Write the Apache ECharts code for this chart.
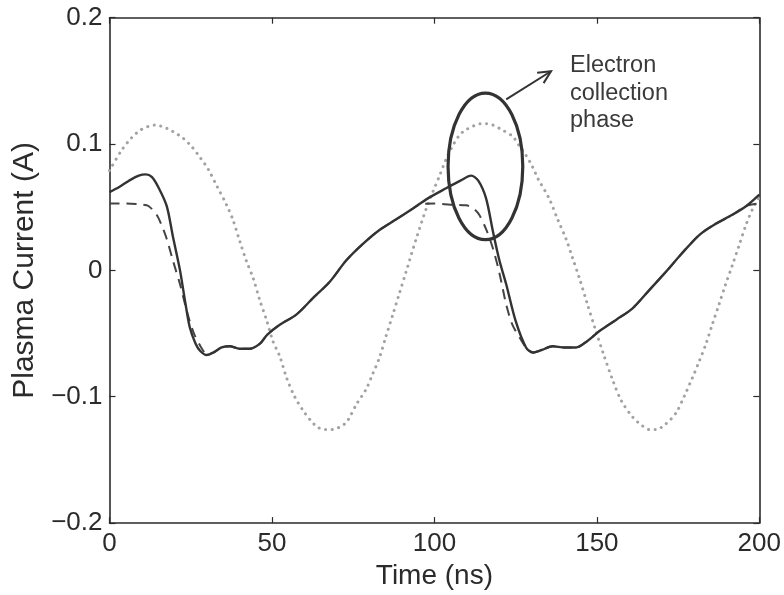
<!DOCTYPE html>
<html>
<head>
<meta charset="utf-8">
<script src="https://cdn.jsdelivr.net/npm/echarts@6/dist/echarts.min.js"></script>
<style>
  html, body { margin: 0; padding: 0; background: #fff; }
  #chart { width: 784px; height: 595px; }
</style>
</head>
<body>
<div id="chart"></div>
<script>
// Time axis (ns) and current axis (A)
var xTicks = [0, 50, 100, 150, 200];
var yTicks = [-0.2, -0.1, 0, 0.1, 0.2];

// Measured plasma current: [time ns, current A]
var measured = [
  [0, 0.062], [3, 0.066], [6, 0.071], [9, 0.075], [11.2, 0.076], [13, 0.074],
  [15, 0.066], [17.6, 0.051], [19.5, 0.027], [21.7, 0.000], [23.3, -0.025],
  [24.7, -0.045], [26.5, -0.058], [28, -0.064], [29.9, -0.067], [32, -0.065],
  [34.5, -0.061], [37, -0.060], [40, -0.062], [43.2, -0.062], [46.3, -0.058],
  [48.5, -0.051], [52.4, -0.043], [57.5, -0.035], [62.6, -0.022], [67.8, -0.009],
  [72.9, 0.008], [78, 0.021], [83.1, 0.032], [88, 0.040], [93.4, 0.049],
  [98, 0.057], [103.6, 0.065], [108, 0.071], [111.3, 0.075], [113.5, 0.071],
  [115.9, 0.057], [118, 0.031], [120, 0.008], [122.1, -0.011], [125, -0.040],
  [128.2, -0.061], [130.3, -0.065], [133, -0.063], [136.4, -0.060], [140, -0.061],
  [143.6, -0.061], [147, -0.056], [150.8, -0.048], [156, -0.039], [161, -0.030],
  [166, -0.016], [171.3, -0.001], [176, 0.013], [181.5, 0.028], [186, 0.036],
  [191.7, 0.044], [196, 0.051], [200, 0.060]
];

// Model current: [time ns, current A]
var model = [
  [0, 0.053], [5, 0.053], [10, 0.052], [12, 0.051], [14.5, 0.044], [16, 0.036],
  [17.6, 0.025], [19.5, 0.008], [21.7, -0.011], [24.1, -0.035], [26, -0.050],
  [28, -0.060], [29.9, -0.066], [32, -0.065], [34.5, -0.061], [37, -0.060],
  [40, -0.062], [43.2, -0.062], [46.3, -0.058], [48.5, -0.051], [52.4, -0.043],
  [57.5, -0.035], [62.6, -0.022], [67.8, -0.009], [72.9, 0.008], [78, 0.021],
  [83.1, 0.032], [88, 0.040], [93.4, 0.049], [95.5, 0.052], [100, 0.053],
  [105, 0.052], [109.8, 0.0515], [112, 0.049], [113.8, 0.044], [116, 0.032],
  [118, 0.0175], [120, -0.002], [122.1, -0.027], [124, -0.043], [126.2, -0.053],
  [128.2, -0.061], [130.3, -0.065], [133, -0.063], [136.4, -0.060], [140, -0.061],
  [143.6, -0.061], [147, -0.056], [150.8, -0.048], [156, -0.039], [161, -0.030],
  [166, -0.016], [171.3, -0.001], [176, 0.013], [181.5, 0.028], [186, 0.036],
  [191.7, 0.044], [196, 0.051], [200, 0.053]
];

// Applied RF signal (scaled): [time ns, value]
var drive = [
  [0, 0.079], [3.7, 0.095], [6.8, 0.105], [9.5, 0.111], [12, 0.114], [14, 0.115],
  [16, 0.114], [18, 0.112], [20.1, 0.109], [22.5, 0.105], [25.3, 0.098], [28, 0.089],
  [30.4, 0.080], [33, 0.067], [36, 0.052], [38, 0.040], [40.1, 0.023], [42.2, 0.007],
  [44.2, -0.006], [46.3, -0.024], [48.3, -0.039], [50.3, -0.056], [52.4, -0.068],
  [54.5, -0.085], [57, -0.100], [59.6, -0.111], [62, -0.119], [64, -0.124],
  [66.3, -0.126], [68.5, -0.126], [70.8, -0.124], [73, -0.120], [76, -0.106],
  [79, -0.094], [81, -0.082], [83.1, -0.069], [85, -0.053], [87.2, -0.035],
  [89, -0.020], [91.3, -0.001], [94.4, 0.025], [97.5, 0.049], [99.5, 0.062],
  [101.6, 0.075], [103.6, 0.088], [105.5, 0.098], [107.7, 0.107], [109.5, 0.111],
  [111.8, 0.114], [114, 0.116], [116, 0.116], [118, 0.115], [121, 0.111],
  [124.1, 0.106], [126, 0.099], [128.2, 0.091], [130, 0.083], [132, 0.072],
  [135.3, 0.057], [138, 0.040], [140.5, 0.025], [142.5, 0.010], [144.6, -0.006],
  [147, -0.026], [149.7, -0.048], [152, -0.066], [154.9, -0.087], [157.5, -0.103],
  [161, -0.116], [164, -0.123], [166.2, -0.126], [168.2, -0.126], [171, -0.122],
  [174.3, -0.113], [177, -0.099], [179.4, -0.085], [181.5, -0.072], [183.6, -0.058],
  [185.5, -0.043], [187.6, -0.027], [189.5, -0.012], [191.7, 0.004], [193.8, 0.020],
  [195.9, 0.036], [198, 0.049], [200, 0.058]
];

// Annotation: ellipse around the electron collection phase (data coords)
var phaseCenter = [115.7, 0.0823];
var phaseRadius = [11.5, 0.058];
var arrowFrom = [122.1, 0.1354];
var arrowTo = [135.9, 0.1576];
var noteLines = ['Electron', 'collection', 'phase'];

var FONT = '"Liberation Sans", Arial, Helvetica, sans-serif';
var INK = '#2b2b2b';

function fmtTick(v) {
  var s = (Math.round(v * 10) / 10).toString();
  return s.replace('-', '\u2212');
}

var chart = echarts.init(document.getElementById('chart'), null, { renderer: 'canvas' });

var boxAxisLine = { show: true, onZero: false, lineStyle: { color: INK, width: 1.6 } };
var boxTick = { show: true, inside: true, length: 6, lineStyle: { color: INK, width: 1.2 } };

chart.setOption({
  animation: false,
  backgroundColor: '#ffffff',
  grid: { left: 109.5, right: 24, top: 17.7, bottom: 69.3, containLabel: false },
  xAxis: [{
    type: 'value', min: xTicks[0], max: xTicks[xTicks.length - 1], interval: 50,
    position: 'bottom',
    axisLine: boxAxisLine, axisTick: boxTick,
    axisLabel: { margin: 8, color: INK, fontSize: 26, fontFamily: FONT },
    splitLine: { show: false },
    name: 'Time (ns)', nameLocation: 'middle', nameGap: 37,
    nameTextStyle: { color: INK, fontSize: 28, fontFamily: FONT }
  }, {
    type: 'value', min: xTicks[0], max: xTicks[xTicks.length - 1], interval: 50,
    position: 'top',
    axisLine: boxAxisLine, axisTick: boxTick,
    axisLabel: { show: false }, splitLine: { show: false }
  }],
  yAxis: [{
    type: 'value', min: yTicks[0], max: yTicks[yTicks.length - 1], interval: 0.1,
    position: 'left',
    axisLine: boxAxisLine, axisTick: boxTick,
    axisLabel: { margin: 7, color: INK, fontSize: 26, fontFamily: FONT, formatter: fmtTick },
    splitLine: { show: false },
    name: 'Plasma Current (A)', nameLocation: 'middle', nameGap: 70, nameRotate: 90,
    nameTextStyle: { color: INK, fontSize: 30, fontFamily: FONT }
  }, {
    type: 'value', min: yTicks[0], max: yTicks[yTicks.length - 1], interval: 0.1,
    position: 'right',
    axisLine: boxAxisLine, axisTick: boxTick,
    axisLabel: { show: false }, splitLine: { show: false }
  }],
  series: [{
    name: 'drive', type: 'line', data: drive, showSymbol: false, smooth: 0.3,
    lineStyle: { color: '#a2a2a2', width: 3, type: [0.1, 6.5], cap: 'round' },
    z: 1
  }, {
    name: 'model', type: 'line', data: model, showSymbol: false, smooth: 0.3,
    lineStyle: { color: '#444', width: 2, type: [10, 7] },
    z: 2
  }, {
    name: 'measured', type: 'line', data: measured, showSymbol: false, smooth: 0.3,
    lineStyle: { color: '#333', width: 2.4 },
    z: 3
  }]
});

// Annotation graphics placed through the axis scales
function px(p) { return chart.convertToPixel({ xAxisIndex: 0, yAxisIndex: 0 }, p); }
var c = px(phaseCenter);
var edge = px([phaseCenter[0] + phaseRadius[0], phaseCenter[1] + phaseRadius[1]]);
var rx = Math.abs(edge[0] - c[0]);
var ry = Math.abs(edge[1] - c[1]);
var a0 = px(arrowFrom);
var a1 = px(arrowTo);
var ang = Math.atan2(a1[1] - a0[1], a1[0] - a0[0]);
var headLen = 14, headSpread = 0.45;
var h1 = [a1[0] - headLen * Math.cos(ang - headSpread), a1[1] - headLen * Math.sin(ang - headSpread)];
var h2 = [a1[0] - headLen * Math.cos(ang + headSpread), a1[1] - headLen * Math.sin(ang + headSpread)];

chart.setOption({
  graphic: [{
    type: 'ellipse', z: 100,
    shape: { cx: c[0], cy: c[1], rx: rx, ry: ry },
    style: { fill: 'none', stroke: '#333', lineWidth: 3.2 }
  }, {
    type: 'line', z: 100,
    shape: { x1: a0[0], y1: a0[1], x2: a1[0], y2: a1[1] },
    style: { stroke: '#333', lineWidth: 2 }
  }, {
    type: 'polyline', z: 100,
    shape: { points: [h1, a1, h2] },
    style: { fill: 'none', stroke: '#333', lineWidth: 2 }
  }, {
    type: 'text', z: 100, left: 570, top: 52,
    style: {
      text: noteLines.join('\n'), fill: '#3a3a3a',
      font: '23.5px ' + FONT, lineHeight: 27.5, align: 'left'
    }
  }]
});
</script>
</body>
</html>
